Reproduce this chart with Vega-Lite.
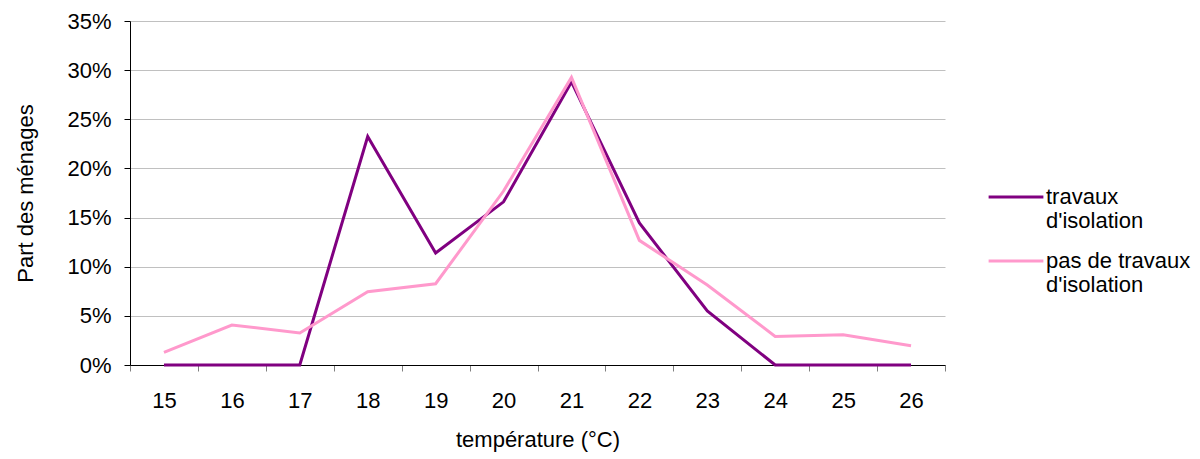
{
  "$schema": "https://vega.github.io/schema/vega-lite/v6.json",
  "width": 815,
  "height": 344,
  "autosize": {"type": "none"},
  "padding": {"left": 130, "top": 21, "right": 255, "bottom": 94},
  "background": "white",
  "config": {"view": {"stroke": null}, "font": "Liberation Sans"},
  "data": {
    "values": [
      {"temp": 15, "serie": "travaux d'isolation", "part": 0},
      {"temp": 16, "serie": "travaux d'isolation", "part": 0},
      {"temp": 17, "serie": "travaux d'isolation", "part": 0},
      {"temp": 18, "serie": "travaux d'isolation", "part": 0.2325},
      {"temp": 19, "serie": "travaux d'isolation", "part": 0.114},
      {"temp": 20, "serie": "travaux d'isolation", "part": 0.166},
      {"temp": 21, "serie": "travaux d'isolation", "part": 0.288},
      {"temp": 22, "serie": "travaux d'isolation", "part": 0.1445},
      {"temp": 23, "serie": "travaux d'isolation", "part": 0.055},
      {"temp": 24, "serie": "travaux d'isolation", "part": 0},
      {"temp": 25, "serie": "travaux d'isolation", "part": 0},
      {"temp": 26, "serie": "travaux d'isolation", "part": 0},
      {"temp": 15, "serie": "pas de travaux d'isolation", "part": 0.0128},
      {"temp": 16, "serie": "pas de travaux d'isolation", "part": 0.0407},
      {"temp": 17, "serie": "pas de travaux d'isolation", "part": 0.0326},
      {"temp": 18, "serie": "pas de travaux d'isolation", "part": 0.0746},
      {"temp": 19, "serie": "pas de travaux d'isolation", "part": 0.0827},
      {"temp": 20, "serie": "pas de travaux d'isolation", "part": 0.177},
      {"temp": 21, "serie": "pas de travaux d'isolation", "part": 0.2926},
      {"temp": 22, "serie": "pas de travaux d'isolation", "part": 0.1268},
      {"temp": 23, "serie": "pas de travaux d'isolation", "part": 0.0814},
      {"temp": 24, "serie": "pas de travaux d'isolation", "part": 0.0291},
      {"temp": 25, "serie": "pas de travaux d'isolation", "part": 0.0308},
      {"temp": 26, "serie": "pas de travaux d'isolation", "part": 0.0196}
    ]
  },
  "mark": {"type": "line", "strokeWidth": 3},
  "encoding": {
    "x": {
      "field": "temp",
      "type": "ordinal",
      "bandPosition": 0.5,
      "scale": {"type": "band", "paddingInner": 0, "paddingOuter": 0},
      "axis": {
        "tickBand": "extent",
        "grid": false,
        "domainColor": "black",
        "tickColor": "#808080",
        "tickSize": 6,
        "labelAngle": 0,
        "labelFontSize": 22,
        "labelColor": "black",
        "labelPadding": 19,
        "title": "température (°C)",
        "titleFontSize": 22,
        "titleFontWeight": "normal",
        "titleColor": "black",
        "titlePadding": 18
      }
    },
    "y": {
      "field": "part",
      "type": "quantitative",
      "scale": {"domain": [0, 0.35]},
      "axis": {
        "values": [0, 0.05, 0.1, 0.15, 0.2, 0.25, 0.3, 0.35],
        "format": ".0%",
        "gridColor": "#c0c0c0",
        "domainColor": "black",
        "tickColor": "black",
        "tickSize": 6,
        "labelFontSize": 22,
        "labelColor": "black",
        "labelPadding": 13,
        "title": "Part des ménages",
        "titleFontSize": 22,
        "titleFontWeight": "normal",
        "titleColor": "black",
        "titlePadding": 29
      }
    },
    "color": {
      "field": "serie",
      "type": "nominal",
      "scale": {
        "domain": ["travaux d'isolation", "pas de travaux d'isolation"],
        "range": ["#800080", "#ff99cc"]
      },
      "legend": {
        "orient": "none",
        "legendX": 857,
        "legendY": 147,
        "title": null,
        "symbolType": "stroke",
        "symbolStrokeWidth": 3,
        "symbolSize": 3000,
        "labelFontSize": 22,
        "labelColor": "black",
        "labelLimit": 300,
        "labelOffset": 1,
        "labelLineHeight": 27,
        "rowPadding": -2,
        "labelExpr": "datum.label === \"travaux d'isolation\" ? ['travaux', \"d'isolation\"] : ['pas de travaux', \"d'isolation\"]"
      }
    }
  }
}
